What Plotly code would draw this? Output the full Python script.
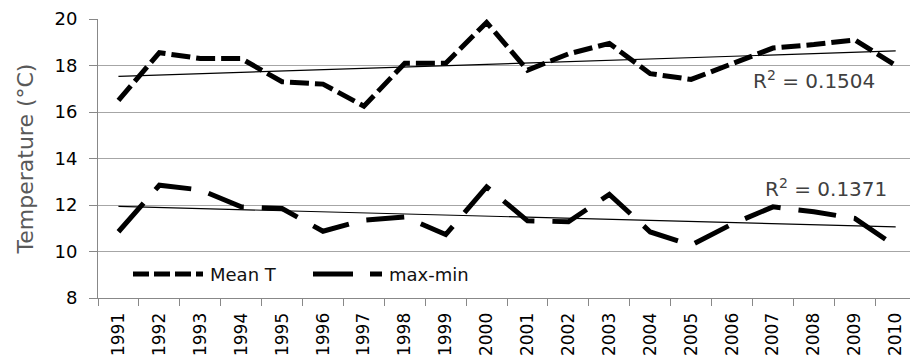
import numpy as np
import plotly.graph_objects as go

years = [str(y) for y in range(1991, 2011)]
mean_t = [16.5, 18.55, 18.3, 18.3, 17.3, 17.2, 16.25, 18.1, 18.1, 19.85,
          17.8, 18.5, 18.95, 17.65, 17.4, 18.1, 18.75, 18.9, 19.1, 18.0]
max_min = [10.85, 12.85, 12.65, 11.92, 11.85, 10.87, 11.35, 11.49, 10.73, 12.78,
           11.32, 11.28, 12.46, 10.84, 10.27, 11.18, 11.92, 11.71, 11.42, 10.23]
r2_labels = ["R<sup>2</sup> = 0.1504", "R<sup>2</sup> = 0.1371"]
series_names = ["Mean T", "max-min"]
y_ticks = [8, 10, 12, 14, 16, 18, 20]

FONT = "DejaVu Sans"
idx = np.arange(len(years))


def trend(vals):
    k, b = np.polyfit(idx, vals, 1)
    return list(k * idx + b)


fig = go.Figure()
fig.add_trace(go.Scatter(x=years, y=mean_t, mode="lines", name=series_names[0],
                         line=dict(color="black", width=5, dash="19px,6px")))
fig.add_trace(go.Scatter(x=years, y=max_min, mode="lines", name=series_names[1],
                         line=dict(color="black", width=5, dash="38px,18px")))
fig.add_trace(go.Scatter(x=years, y=trend(mean_t), mode="lines", showlegend=False,
                         line=dict(color="black", width=1.2)))
fig.add_trace(go.Scatter(x=years, y=trend(max_min), mode="lines", showlegend=False,
                         line=dict(color="black", width=1.2)))

# plot area: x 98..910 px, y 19..298 px
L, R, T, B = 98, 910, 19, 298
W, H = R - L, B - T


def px(x):
    return (x - L) / W


def py(y):
    return (B - y) / H


shapes = [
    dict(type="line", xref="paper", yref="paper", x0=px(133), x1=px(203), y0=py(274), y1=py(274),
         line=dict(color="black", width=5, dash="16px,5px")),
    dict(type="line", xref="paper", yref="paper", x0=px(313), x1=px(382), y0=py(274), y1=py(274),
         line=dict(color="black", width=5, dash="40px,17px")),
]
annotations = [
    dict(text=series_names[0], xref="paper", yref="paper", x=px(208), y=py(274),
         xanchor="left", yanchor="middle", showarrow=False,
         font=dict(family=FONT, size=18, color="#111111")),
    dict(text=series_names[1], xref="paper", yref="paper", x=px(387), y=py(274),
         xanchor="left", yanchor="middle", showarrow=False,
         font=dict(family=FONT, size=18, color="#111111")),
    dict(text=r2_labels[0], xref="paper", yref="paper", x=px(751), y=py(80),
         xanchor="left", yanchor="middle", showarrow=False,
         font=dict(family=FONT, size=20, color="#404040")),
    dict(text=r2_labels[1], xref="paper", yref="paper", x=px(763), y=py(188),
         xanchor="left", yanchor="middle", showarrow=False,
         font=dict(family=FONT, size=20, color="#404040")),
]

fig.update_layout(
    width=910, height=357,
    margin=dict(l=L, r=910 - R, t=T, b=357 - B, autoexpand=False),
    paper_bgcolor="white", plot_bgcolor="white",
    showlegend=False,
    shapes=shapes, annotations=annotations,
    font=dict(family=FONT, color="black"),
    xaxis=dict(type="category", range=[-0.5, 19.35], tickson="boundaries",
               automargin=False,
               ticks="outside", ticklen=7, tickcolor="#888888", tickwidth=1,
               showline=True, linecolor="#888888", linewidth=1,
               showgrid=False, tickangle=-90,
               tickfont=dict(family=FONT, size=17, color="black"),
               ticklabelstandoff=7),
    yaxis=dict(range=[8, 20], tickvals=y_ticks, ticks="outside", ticklen=8,
               automargin=False,
               tickcolor="#888888", tickwidth=1,
               showline=True, linecolor="#888888", linewidth=1,
               showgrid=True, gridcolor="#a6a6a6", gridwidth=1.3,
               zeroline=False,
               tickfont=dict(family=FONT, size=18, color="black"),
               ticklabelstandoff=8,
               title=dict(text="Temperature (°C)", standoff=14,
                          font=dict(family=FONT, size=22, color="#595959"))),
)

fig.write_html(
    "out.html",
    config={"displayModeBar": False},
    post_script="document.body.style.margin='0';document.body.style.overflow='hidden';",
)
